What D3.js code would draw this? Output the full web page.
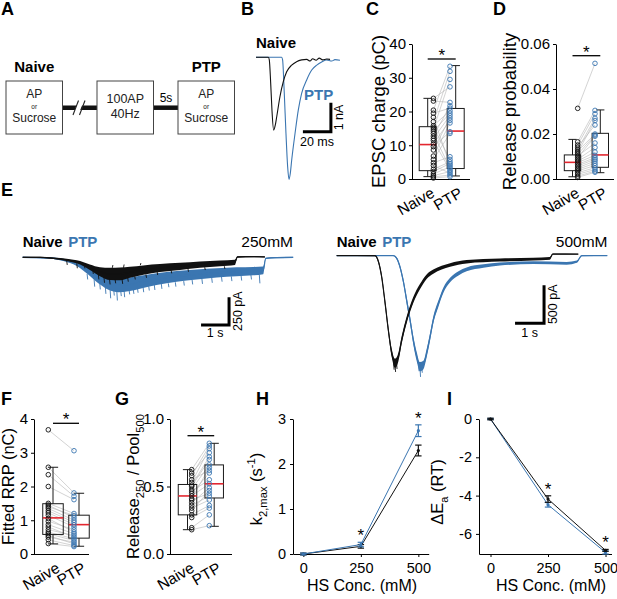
<!DOCTYPE html>
<html>
<head>
<meta charset="utf-8">
<script src="https://cdnjs.cloudflare.com/ajax/libs/d3/7.8.5/d3.min.js"></script>
<style>body { margin: 0; background: #fff; }</style>
</head>
<body>
<script>
var width = 617, height = 599;
var blue = "#3b76b1", red = "#e3262f", pairGray = "#b5b5b5";
var fam = "'Liberation Sans', Arial, Helvetica, sans-serif";
var groups = ["Naive", "PTP"];

// ---- B: single EPSCs (ms, nA)
var bNaive = [[0,0],[8.8,0],[9.5,-0.09],[10.5,-0.9],[11.4,-1.82],[12.6,-2.51],[13.8,-2.33],[14.8,-2.05],[17.1,-1.36],[19.5,-0.84],[21.9,-0.5],[25.5,-0.27],[29,-0.15],[32.6,-0.09],[36.2,-0.07],[38.6,-0.13],[40.5,-0.05],[42.9,-0.1],[45.2,-0.03],[47.6,-0.09],[50.5,-0.06],[52.9,-0.07]];
var bPtp = [[0,0],[18.3,0],[19,-0.09],[20.2,-1.24],[21.4,-2.62],[22.6,-3.77],[23.6,-4.21],[24.5,-4.0],[25.5,-3.54],[27.9,-2.62],[30.2,-1.82],[32.6,-1.24],[36.2,-0.78],[39.8,-0.44],[43.4,-0.27],[46.9,-0.16],[50.5,-0.09],[54.1,-0.13],[56.4,-0.08],[60,-0.1]];

// ---- C: EPSC charge (pC), paired
var chargeNaive = [23.9, 23.1, 20.4, 19.5, 18.3, 17.0, 15.8, 15.3, 14.8, 14.2, 13.5, 12.7, 12.0, 11.4, 10.4, 9.6, 8.6, 6.8, 5.8, 4.8, 4.0, 2.9, 2.2, 1.5, 1.0, 0.6, 0.3];
var chargePtp = [27.3, 22.7, 33.4, 21.0, 4.1, 31.9, 20.2, 5.8, 29.5, 19.5, 3.1, 21.7, 18.8, 2.6, 17.4, 14.0, 18.1, 16.6, 13.5, 6.6, 1.7, 5.1, 4.6, 3.6, 2.2, 1.2, 0.7];
// box stats: [whisker low, q1, median, q3, whisker high]
var chargeBox = { Naive: [0.7, 2.47, 10.2, 15.5, 23.9], PTP: [0.9, 3.1, 14.2, 20.9, 33.6] };
var chargeTicks = [0, 10, 20, 30, 40];

// ---- D: release probability
var prNaive = [0.0314, 0.0165, 0.0151, 0.0141, 0.0132, 0.0124, 0.0117, 0.0110, 0.0102, 0.0095, 0.0087, 0.0080, 0.0073, 0.0065, 0.0058, 0.0050, 0.0043, 0.0036, 0.0028, 0.0021, 0.0013, 0.0007];
var prPtp = [0.0514, 0.0305, 0.0290, 0.0240, 0.0270, 0.0200, 0.0260, 0.0195, 0.0160, 0.0190, 0.0140, 0.0120, 0.0105, 0.0095, 0.0088, 0.0080, 0.0070, 0.0060, 0.0050, 0.0042, 0.0035, 0.0030];
var prBox = { Naive: [0.001, 0.0037, 0.0074, 0.0107, 0.0176], PTP: [0.0028, 0.0052, 0.0107, 0.0203, 0.0307] };
var prTicks = [0, 0.02, 0.04, 0.06];

// ---- E: sucrose responses [s, centre pA, noise half-width pA]
var e250Naive = [[0,0,4],[0.62,0,5],[1.1,-9,7],[1.57,-24,10],[2.05,-50,16],[2.4,-90,25],[2.76,-130,40],[3.12,-150,55],[3.48,-150,58],[3.83,-135,50],[4.31,-115,42],[4.9,-97,36],[5.62,-82,32],[6.33,-66,28],[7.05,-55,26],[7.58,-45,24],[7.67,3,6],[8.24,6,5],[8.65,3,4]];
var e250Ptp = [[0,0,4],[0.975,-6,6],[1.45,-24,10],[1.93,-60,18],[2.34,-125,30],[2.7,-190,45],[3.06,-235,58],[3.42,-250,65],[3.77,-245,62],[4.19,-225,58],[4.78,-197,53],[5.5,-172,48],[6.21,-155,45],[6.93,-140,42],[7.64,-130,40],[8.24,-125,38],[8.59,-118,36],[8.68,-9,6],[9.07,-3,5],[9.66,0,4]];
// spikes [s, from pA, to pA]
var e250NaiveSpikes = [[1.57,-30,-69],[1.93,-55,-99],[2.2,-60,-100],[2.5,-100,-150],[2.7,-150,-200],[2.9,-175,-230],[3.1,-195,-245],[3.3,-200,-235],[3.55,-200,-240],[3.75,-185,-220],[4.0,-170,-200],[4.4,-155,-185],[4.8,-130,-160],[5.3,-115,-145],[5.9,-100,-130],[6.5,-90,-115],[7.2,-80,-105],[3.2,-95,-70],[3.6,-95,-65],[4.2,-72,-52]];
var e250PtpSpikes = [[2.3,-150,-200],[2.55,-200,-265],[2.75,-225,-290],[2.95,-260,-330],[3.12,-280,-370],[3.25,-290,-345],[3.36,-300,-390],[3.5,-300,-350],[3.62,-295,-360],[3.8,-295,-335],[3.95,-290,-330],[4.1,-280,-320],[4.3,-270,-315],[4.5,-260,-300],[4.7,-250,-295],[4.95,-240,-285],[5.2,-235,-270],[5.45,-225,-265],[5.75,-215,-255],[6.05,-205,-245],[6.4,-195,-240],[6.75,-185,-230],[7.1,-178,-220],[7.45,-172,-215],[7.8,-168,-210],[8.15,-160,-200],[8.45,-155,-235]];
var e500Naive = [[0,0,5],[1.32,0,6],[1.44,-79,20],[1.55,-276,35],[1.67,-627,45],[1.78,-978,50],[1.9,-1285,55],[2.01,-1416,60],[2.13,-1329,55],[2.24,-1110,50],[2.41,-847,45],[2.64,-583,40],[2.87,-408,35],[3.1,-276,30],[3.33,-211,28],[3.91,-123,24],[4.48,-79,22],[5.63,-57,20],[6.78,-44,18],[7.35,-35,18],[7.45,22,6],[8.33,22,5]];
var e500Ptp = [[0,0,5],[1.95,0,5],[2.07,-35,15],[2.18,-145,25],[2.3,-342,35],[2.41,-583,45],[2.53,-847,50],[2.64,-1110,55],[2.76,-1329,60],[2.87,-1460,60],[2.99,-1438,55],[3.1,-1285,55],[3.22,-1066,50],[3.33,-847,45],[3.51,-627,40],[3.68,-452,35],[3.91,-320,30],[4.2,-232,28],[4.48,-180,25],[5.06,-136,22],[5.63,-110,20],[6.78,-92,18],[7.93,-101,18],[8.28,-79,15],[8.45,0,6],[9.33,0,5]];
var e500NaiveSpikes = [[1.96,-1400,-1500],[2.01,-1420,-1530],[2.06,-1400,-1490]];
var e500PtpSpikes = [[2.82,-1420,-1520],[2.87,-1450,-1595],[2.93,-1440,-1540]];

// ---- F: fitted RRP (nC)
var rrpNaive = [3.68, 2.57, 2.35, 2.0, 1.5, 1.45, 1.4, 1.35, 1.28, 1.22, 1.15, 1.05, 0.97, 0.87, 0.8, 0.72, 0.65, 0.6, 0.55, 0.5, 0.42, 0.31];
var rrpPtp = [3.06, 1.81, 1.71, 1.61, 1.2, 1.07, 1.14, 1.0, 0.94, 0.87, 0.8, 0.65, 0.72, 0.6, 0.5, 0.55, 0.45, 0.4, 0.3, 0.35, 0.25, 0.22];
var rrpBox = { Naive: [0.3, 0.58, 1.07, 1.49, 2.57], PTP: [0.23, 0.47, 0.87, 1.15, 1.8] };
var rrpTicks = [0, 1, 2, 3, 4];

// ---- G: Release250 / Pool500
var fracNaive = [0.625, 0.60, 0.58, 0.55, 0.53, 0.51, 0.50, 0.48, 0.465, 0.45, 0.43, 0.41, 0.40, 0.38, 0.36, 0.34, 0.32, 0.29, 0.27, 0.195, 0.18];
var fracPtp = [0.82, 0.75, 0.80, 0.62, 0.78, 0.72, 0.70, 0.66, 0.55, 0.60, 0.52, 0.64, 0.45, 0.49, 0.43, 0.40, 0.47, 0.36, 0.34, 0.29, 0.21];
var fracBox = { Naive: [0.18, 0.29, 0.43, 0.515, 0.625], PTP: [0.205, 0.415, 0.52, 0.66, 0.82] };
var fracTicks = [0, 0.5, 1];

// ---- H, I: vs HS concentration
var hsConc = [0, 250, 500];
var k2Naive = [0, 0.17, 2.30], k2NaiveErr = [0.02, 0.04, 0.12];
var k2Ptp = [0, 0.21, 2.74], k2PtpErr = [0.02, 0.05, 0.13];
var k2Ticks = [0, 1, 2, 3];
var eaNaive = [0, -4.18, -6.86], eaNaiveErr = [0.04, 0.17, 0.05];
var eaPtp = [0, -4.48, -6.97], eaPtpErr = [0.03, 0.12, 0.08];
var eaTicks = [0, -2, -4, -6];

var svg = d3.select("body").append("svg")
    .attr("width", width).attr("height", height)
    .style("font-family", fam);

// panel letters
[["A",1,15],["B",241,15],["C",366,15],["D",493,15],["E",1,196],["F",1,405],["G",115,405],["H",256,405],["I",447,405]]
  .forEach(function(l) {
    svg.append("text").attr("x", l[1]).attr("y", l[2]).text(l[0])
      .style("font-size", "18px").style("font-weight", "bold");
  });

function txt(s, x, y, size, opts) {
  opts = opts || {};
  var t = svg.append("text").attr("x", x).attr("y", y).text(s)
    .style("font-size", size + "px")
    .attr("text-anchor", opts.anchor || "start")
    .attr("fill", opts.fill || "#000");
  if (opts.bold) t.style("font-weight", "bold");
  if (opts.rot) t.attr("transform", "rotate(" + opts.rot + "," + x + "," + y + ")");
  return t;
}

// rotated axis title made of parts: [text, "sub"|"sup"|null]
function yTitle(parts, x, y, size) {
  var t = svg.append("text").attr("transform", "translate(" + x + "," + y + ") rotate(-90)")
    .attr("text-anchor", "middle").style("font-size", size + "px");
  var shift = 0;
  parts.forEach(function(p) {
    var d = 0;
    if (p[1] == "sub") d = 0.33 * size;
    if (p[1] == "sup") d = -0.42 * size;
    var s = t.append("tspan").text(p[0]).attr("dy", d - shift);
    if (p[1]) s.style("font-size", (size * 0.68) + "px");
    shift = d;
  });
}

// =============== A: protocol ===============
var protoBoxes = [
  { x: 6, title: "Naive", lines: [["AP", 98.3, 12], ["or", 108.5, 6.5], ["Sucrose", 122.3, 12]] },
  { x: 97, title: "", lines: [["100AP", 103.3, 12.5], ["40Hz", 118.3, 12.5]] },
  { x: 178, title: "PTP", lines: [["AP", 98.3, 12], ["or", 108.5, 6.5], ["Sucrose", 122.3, 12]] }
];
var boxW = 56.5, boxTop = 81, boxH = 53;
svg.append("line").attr("x1", 62.5).attr("x2", 97).attr("y1", 107.7).attr("y2", 107.7)
  .attr("stroke", "#111").attr("stroke-width", 4.5);
svg.append("line").attr("x1", 154).attr("x2", 178).attr("y1", 107.7).attr("y2", 107.7)
  .attr("stroke", "#111").attr("stroke-width", 4.5);
// break marks
svg.append("line").attr("x1", 76).attr("y1", 114).attr("x2", 81).attr("y2", 101)
  .attr("stroke", "#fff").attr("stroke-width", 5);
[[73, 84], [79.5, 90.5]].forEach(function(s) {
  svg.append("line").attr("x1", s[0]).attr("y1", 115).attr("x2", s[0] + 5.5).attr("y2", 100.5)
    .attr("stroke", "#222").attr("stroke-width", 1.1);
});
txt("5s", 166, 101.5, 12, { anchor: "middle" });
protoBoxes.forEach(function(b) {
  svg.append("rect").attr("x", b.x).attr("y", boxTop).attr("width", boxW).attr("height", boxH)
    .attr("fill", "#fff").attr("stroke", "#444").attr("stroke-width", 1);
  var cx = b.x + boxW / 2;
  if (b.title) txt(b.title, cx, 71.7, 15, { anchor: "middle", bold: true });
  b.lines.forEach(function(l) { txt(l[0], cx, l[1], l[2], { anchor: "middle", fill: "#222" }); });
});

// =============== B: EPSCs ===============
var bx = d3.scaleLinear().domain([0, 20]).range([256, 284]);
var by = d3.scaleLinear().domain([0, -1]).range([57.3, 86.3]);
var bLine = d3.line().x(function(d) { return bx(d[0]); }).y(function(d) { return by(d[1]); })
  .curve(d3.curveMonotoneX);
svg.append("path").datum(bPtp).attr("d", bLine).attr("fill", "none").attr("stroke", blue).attr("stroke-width", 1.1);
svg.append("path").datum(bNaive).attr("d", bLine).attr("fill", "none").attr("stroke", "#111").attr("stroke-width", 1.1);
txt("Naive", 256, 48, 15, { bold: true });
txt("PTP", 304, 100, 15, { bold: true, fill: blue });
svg.append("path").attr("d", "M" + bx(33.5) + "," + by(-2.57) + "H" + bx(53.5) + "V" + by(-1.57))
  .attr("fill", "none").attr("stroke", "#000").attr("stroke-width", 3);
txt("20 ms", 317, 146, 12.5, { anchor: "middle" });
txt("1 nA", 343, 117.5, 12.5, { anchor: "middle", rot: -90 });

// =============== box plot panels ===============
function boxPanel(p) {
  var y = d3.scaleLinear().domain(p.domain).range([p.bottom, p.top]);
  var cx = { Naive: p.centers[0], PTP: p.centers[1] };
  var g = svg.append("g");
  var ax = g.append("g").attr("transform", "translate(" + p.axisX + ",0)")
    .call(d3.axisLeft(y).tickValues(p.ticks).tickSize(3).tickSizeOuter(0).tickPadding(3)
      .tickFormat(d3.format(p.fmt)));
  ax.attr("font-family", fam).attr("font-size", p.tickFont);
  ax.selectAll("text").attr("fill", "#000");
  g.append("line").attr("x1", p.axisX).attr("x2", p.xEnd).attr("y1", p.bottom + 0.5).attr("y2", p.bottom + 0.5)
    .attr("stroke", "#000");

  g.selectAll("line.pair").data(p.naive).enter().append("line").attr("class", "pair")
    .attr("x1", cx.Naive + p.off[0]).attr("x2", cx.PTP + p.off[1])
    .attr("y1", function(d) { return y(d); })
    .attr("y2", function(d, i) { return y(p.ptp[i]); })
    .attr("stroke", pairGray).attr("stroke-width", 0.6);

  groups.forEach(function(k) {
    var s = p.stats[k], c = cx[k], w = p.boxW;
    g.append("rect").attr("x", c - w / 2).attr("y", y(s[3])).attr("width", w)
      .attr("height", y(s[1]) - y(s[3])).attr("fill", "none").attr("stroke", "#1a1a1a").attr("stroke-width", 1);
    g.append("line").attr("x1", c).attr("x2", c).attr("y1", y(s[4])).attr("y2", y(s[3])).attr("stroke", "#1a1a1a");
    g.append("line").attr("x1", c).attr("x2", c).attr("y1", y(s[1])).attr("y2", y(s[0])).attr("stroke", "#1a1a1a");
    [s[0], s[4]].forEach(function(v) {
      g.append("line").attr("x1", c - w / 4).attr("x2", c + w / 4).attr("y1", y(v)).attr("y2", y(v)).attr("stroke", "#1a1a1a");
    });
    g.append("line").attr("x1", c - w / 2).attr("x2", c + w / 2).attr("y1", y(s[2])).attr("y2", y(s[2]))
      .attr("stroke", red).attr("stroke-width", 1.6);
  });

  g.selectAll("circle.n").data(p.naive).enter().append("circle")
    .attr("cx", cx.Naive + p.off[0]).attr("cy", function(d) { return y(d); }).attr("r", 2.3)
    .attr("fill", "none").attr("stroke", "#111").attr("stroke-width", 0.9);
  g.selectAll("circle.p").data(p.ptp).enter().append("circle")
    .attr("cx", cx.PTP + p.off[1]).attr("cy", function(d) { return y(d); }).attr("r", 2.3)
    .attr("fill", "none").attr("stroke", blue).attr("stroke-width", 0.9);

  g.append("line").attr("x1", cx.Naive).attr("x2", cx.PTP).attr("y1", p.sigY).attr("y2", p.sigY)
    .attr("stroke", "#000").attr("stroke-width", 1.3);
  txt("*", (cx.Naive + cx.PTP) / 2, p.sigY + 2, 17, { anchor: "middle" });

  groups.forEach(function(k) {
    txt(k, cx[k] + 8, p.bottom + 17, 15.5, { anchor: "end", rot: -30 });
  });
  yTitle(p.title, p.titleX, (p.top + p.bottom) / 2, p.titleSize);
}

boxPanel({ axisX: 412, top: 44, bottom: 179, domain: [0, 40], ticks: chargeTicks, fmt: "d", tickFont: 15,
  centers: [427.7, 455.7], boxW: 17, off: [5.7, -5.7], xEnd: 470, sigY: 59,
  naive: chargeNaive, ptp: chargePtp, stats: chargeBox,
  title: [["EPSC charge (pC)"]], titleX: 385, titleSize: 18.5 });
boxPanel({ axisX: 556, top: 44, bottom: 179, domain: [0, 0.06], ticks: prTicks, fmt: ".2f", tickFont: 15,
  centers: [572.5, 600.3], boxW: 16.4, off: [5.2, -5.3], xEnd: 614, sigY: 55.7,
  naive: prNaive, ptp: prPtp, stats: prBox,
  title: [["Release probability"]], titleX: 516, titleSize: 18.5 });
boxPanel({ axisX: 34, top: 419, bottom: 554, domain: [0, 4], ticks: rrpTicks, fmt: "d", tickFont: 15,
  centers: [53, 79], boxW: 20.5, off: [-4.7, -5], xEnd: 89, sigY: 423.3,
  naive: rrpNaive, ptp: rrpPtp, stats: rrpBox,
  title: [["Fitted RRP (nC)"]], titleX: 14, titleSize: 16.5 });
boxPanel({ axisX: 170, top: 419, bottom: 554, domain: [0, 1], ticks: fracTicks, fmt: ".1f", tickFont: 15,
  centers: [187.5, 214.2], boxW: 18.5, off: [4.2, -4.9], xEnd: 232, sigY: 435.7,
  naive: fracNaive, ptp: fracPtp, stats: fracBox,
  title: [["Release"], ["250", "sub"], [" / Pool"], ["500", "sub"]], titleX: 139, titleSize: 16.5 });

// =============== E: sucrose traces ===============
function tracePanel(p) {
  var area = d3.area().x(function(d) { return p.x(d[0]); })
    .y0(function(d) { return p.y(d[1] + d[2]); }).y1(function(d) { return p.y(d[1] - d[2]); })
    .curve(d3.curveMonotoneX);
  var line = d3.line().x(function(d) { return p.x(d[0]); }).y(function(d) { return p.y(d[1]); })
    .curve(d3.curveMonotoneX);
  [[p.ptp, p.ptpSpikes, blue], [p.naive, p.naiveSpikes, "#111"]].forEach(function(s) {
    svg.append("path").datum(s[0]).attr("d", area).attr("fill", s[2]);
    svg.append("path").datum(s[0]).attr("d", line).attr("fill", "none").attr("stroke", s[2]).attr("stroke-width", 1.2);
    s[1].forEach(function(k) {
      svg.append("line").attr("x1", p.x(k[0])).attr("x2", p.x(k[0]) + 0.6)
        .attr("y1", p.y(k[1])).attr("y2", p.y(k[2])).attr("stroke", s[2]).attr("stroke-width", 0.9);
    });
  });
  txt("Naive", p.x(0), 246.7, 15, { bold: true });
  txt("PTP", p.x(0) + 45.5, 246.7, 15, { bold: true, fill: blue });
  txt(p.conc, p.concX, 246.7, 15.5, { anchor: "end" });
  var sb = p.bar;
  svg.append("path").attr("d", "M" + p.x(sb[0]) + "," + p.y(sb[1]) + "H" + p.x(sb[0] + 1) + "V" + p.y(sb[1] + sb[2]))
    .attr("fill", "none").attr("stroke", "#000").attr("stroke-width", 3);
  txt("1 s", p.x(sb[0] + 0.5), 336.5, 12.5, { anchor: "middle" });
  txt(sb[2] + " pA", p.x(sb[0] + 1) + 13, (p.y(sb[1]) + p.y(sb[1] + sb[2])) / 2, 12.5, { anchor: "middle", rot: -90 });
}
tracePanel({ x: d3.scaleLinear().domain([0, 1]).range([22.7, 50.7]),
  y: d3.scaleLinear().domain([0, -250]).range([257.3, 285]),
  naive: e250Naive, ptp: e250Ptp, naiveSpikes: e250NaiveSpikes, ptpSpikes: e250PtpSpikes,
  conc: "250mM", concX: 293, bar: [6.37, -611, 250] });
tracePanel({ x: d3.scaleLinear().domain([0, 1]).range([336.7, 365.7]),
  y: d3.scaleLinear().domain([0, -500]).range([255.7, 293.7]),
  naive: e500Naive, ptp: e500Ptp, naiveSpikes: e500NaiveSpikes, ptpSpikes: e500PtpSpikes,
  conc: "500mM", concX: 607.5, bar: [6.15, -889, 500] });

// =============== H, I: line plots ===============
function linePanel(p) {
  var x = d3.scaleLinear().domain(p.xDomain).range([p.axisX, p.xEnd]);
  var y = d3.scaleLinear().domain(p.yDomain).range([p.bottom, p.top]);
  var ay = svg.append("g").attr("transform", "translate(" + p.axisX + ",0)")
    .call(d3.axisLeft(y).tickValues(p.yTicks).tickSize(3).tickSizeOuter(0).tickPadding(4)
      .tickFormat(function(d) { return String(d); }));
  var ax = svg.append("g").attr("transform", "translate(0," + p.bottom + ")")
    .call(d3.axisBottom(x).tickValues(hsConc).tickSize(3).tickSizeOuter(0).tickPadding(6));
  [ax, ay].forEach(function(a) { a.attr("font-family", fam).attr("font-size", 14.5); a.selectAll("text").attr("fill", "#000"); });

  var line = d3.line().x(function(d, i) { return x(hsConc[i]); }).y(function(d) { return y(d); });
  p.series.forEach(function(s) {
    svg.append("path").datum(s.v).attr("d", line).attr("fill", "none").attr("stroke", s.c).attr("stroke-width", 1);
    s.v.forEach(function(v, i) {
      var cx = x(hsConc[i]);
      svg.append("line").attr("x1", cx).attr("x2", cx).attr("y1", y(v - s.e[i])).attr("y2", y(v + s.e[i]))
        .attr("stroke", s.c).attr("stroke-width", 1.2);
      [v - s.e[i], v + s.e[i]].forEach(function(b) {
        svg.append("line").attr("x1", cx - 3.2).attr("x2", cx + 3.2).attr("y1", y(b)).attr("y2", y(b))
          .attr("stroke", s.c).attr("stroke-width", 1.2);
      });
      svg.append("circle").attr("cx", cx).attr("cy", y(v)).attr("r", 1.6).attr("fill", s.c);
    });
  });
  [1, 2].forEach(function(i) {
    var top = d3.max(p.series, function(s) { return s.v[i] + s.e[i]; });
    txt("*", x(hsConc[i]), y(top) - 1, 17, { anchor: "middle" });
  });
  txt("HS Conc. (mM)", p.labelX, 591, 16, { anchor: "middle" });
  yTitle(p.title, p.titleX, p.titleY, 16.5);
}
linePanel({ axisX: 293, xEnd: 428.7, xDomain: [-45, 545], top: 419, bottom: 554, yDomain: [0, 3],
  yTicks: k2Ticks, labelX: 362,
  series: [{ v: k2Naive, e: k2NaiveErr, c: "#111" }, { v: k2Ptp, e: k2PtpErr, c: blue }],
  title: [["k"], ["2,max", "sub"], [" (s"], ["-1", "sup"], [")"]], titleX: 262, titleY: 489 });
linePanel({ axisX: 479, xEnd: 611.5, xDomain: [-50, 526], top: 419, bottom: 554, yDomain: [-7.05, 0],
  yTicks: eaTicks, labelX: 551,
  series: [{ v: eaPtp, e: eaPtpErr, c: blue }, { v: eaNaive, e: eaNaiveErr, c: "#111" }],
  title: [["\u0394E"], ["a", "sub"], [" (RT)"]], titleX: 443, titleY: 492 });
</script>
</body>
</html>
